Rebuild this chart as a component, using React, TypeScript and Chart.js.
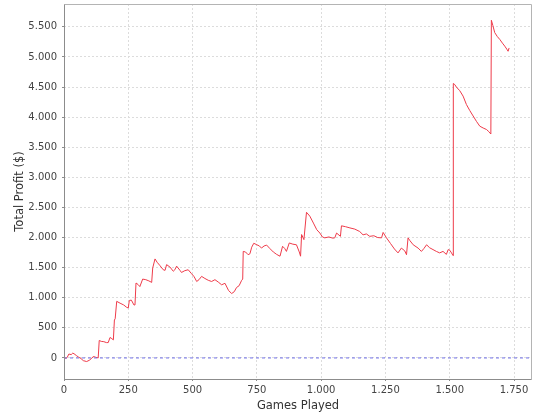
import React, { useEffect, useRef } from "react";
import { Chart, registerables } from "chart.js";

Chart.register(...registerables);

const games = [
  0, 8, 12, 19, 28, 34, 39, 48, 56, 66,
  75, 88, 98, 108, 114, 124, 133, 137, 145, 155,
  165, 172, 179, 186, 192, 196, 199, 205, 218, 232,
  244, 250, 254, 262, 272, 276, 280, 288, 295, 306,
  318, 330, 341, 345, 354, 362, 372, 386, 393, 399,
  412, 425, 431, 438, 451, 457, 470, 483, 496, 506,
  516, 525, 535, 548, 561, 574, 587, 600, 613, 626,
  640, 652, 662, 671, 681, 691, 695, 697, 706, 716,
  723, 730, 738, 750, 760, 768, 778, 788, 800, 814,
  827, 840, 850, 858, 865, 876, 890, 904, 915, 920,
  924, 933, 943, 956, 970, 983, 995, 1005, 1014, 1030,
  1045, 1053, 1060, 1075, 1079, 1095, 1112, 1131, 1150, 1163,
  1176, 1189, 1205, 1220, 1235, 1241, 1254, 1270, 1285, 1299,
  1312, 1325, 1332, 1338, 1345, 1358, 1377, 1390, 1400, 1410,
  1422, 1435, 1448, 1461, 1474, 1487, 1494, 1500, 1507, 1513,
  1514, 1520, 1526, 1539, 1552, 1565, 1578, 1591, 1604, 1617,
  1630, 1643, 1652, 1660, 1662, 1668, 1675, 1685, 1695, 1705,
  1714, 1722, 1727, 1731,
];

const profit = [
  0, -5, 5, 65, 55, 80, 70, 40, 15, -10,
  -45, -60, -40, -5, 25, 10, 0, 290, 275, 270,
  255, 255, 340, 320, 300, 630, 650, 940, 910, 880,
  840, 830, 955, 960, 880, 880, 1245, 1220, 1185, 1310,
  1300, 1280, 1255, 1495, 1645, 1590, 1540, 1465, 1455, 1550,
  1510, 1440, 1465, 1525, 1455, 1420, 1450, 1465, 1400, 1350,
  1270, 1300, 1355, 1320, 1290, 1270, 1300, 1260, 1215, 1240,
  1120, 1070, 1100, 1170, 1200, 1290, 1310, 1770, 1760, 1715,
  1730, 1840, 1905, 1880, 1860, 1825, 1860, 1875, 1820, 1760,
  1720, 1690, 1855, 1820, 1770, 1910, 1890, 1880, 1760, 1690,
  2050, 1965, 2420, 2355, 2240, 2130, 2075, 2010, 1995, 2010,
  1990, 1995, 2075, 2020, 2195, 2180, 2160, 2140, 2100, 2045,
  2060, 2020, 2030, 2000, 1995, 2085, 1995, 1900, 1810, 1745,
  1825, 1780, 1715, 1995, 1950, 1880, 1825, 1770, 1820, 1880,
  1830, 1800, 1770, 1745, 1770, 1720, 1800, 1790, 1745, 1700,
  4560, 4540, 4500, 4440, 4350, 4210, 4110, 4020, 3930, 3850,
  3820, 3795, 3760, 3720, 5610, 5520, 5405, 5340, 5290, 5230,
  5180, 5130, 5095, 5150,
];

const xTicks = [0, 250, 500, 750, 1000, 1250, 1500, 1750];
const yTicks = [0, 500, 1000, 1500, 2000, 2500, 3000, 3500, 4000, 4500, 5000, 5500];

const xMin = 0;
const xMax = 1820;
const yMin = -350;
const yMax = 5880;

const xTitle = "Games Played";
const yTitle = "Total Profit ($)";

function fmt(v: number): string {
  const neg = v < 0;
  const s = Math.round(Math.abs(v)).toString();
  const out = s.replace(/\B(?=(\d{3})+(?!\d))/g, ".");
  return (neg ? "-" : "") + out;
}

const frame = {
  id: "frame",
  afterDraw(chart: any) {
    const { ctx, chartArea } = chart;
    const l = Math.round(chartArea.left) + 0.5;
    const r = Math.round(chartArea.right) - 0.5;
    const t = Math.round(chartArea.top) + 0.5;
    const b = Math.round(chartArea.bottom) + 0.5;
    ctx.save();
    ctx.setLineDash([]);
    ctx.lineWidth = 1;
    ctx.strokeStyle = "#b4b4b4";
    ctx.beginPath();
    ctx.moveTo(l, t);
    ctx.lineTo(r, t);
    ctx.lineTo(r, b);
    ctx.stroke();
    ctx.strokeStyle = "#8c8c8c";
    ctx.beginPath();
    ctx.moveTo(l, t);
    ctx.lineTo(l, b);
    ctx.lineTo(r, b);
    ctx.stroke();
    ctx.restore();
  },
};

export default function App() {
  const ref = useRef<HTMLCanvasElement | null>(null);

  useEffect(() => {
    if (!ref.current) return;
    const pts = games.map((g, i) => ({ x: g, y: profit[i] }));
    const chart = new Chart(ref.current, {
      type: "line",
      data: {
        datasets: [
          {
            data: [
              { x: xMin, y: 0 },
              { x: xMax, y: 0 },
            ],
            borderColor: "#6f6fe6",
            borderWidth: 1,
            borderDash: [3, 3],
            pointRadius: 0,
            tension: 0,
          },
          {
            data: pts,
            borderColor: "#ee3b4a",
            borderWidth: 1,
            pointRadius: 0,
            tension: 0,
          },
        ],
      },
      options: {
        animation: false,
        responsive: false,
        maintainAspectRatio: false,
        layout: { padding: { left: 0, top: 4, right: 8, bottom: 0 } },
        plugins: {
          legend: { display: false },
          tooltip: { enabled: false },
        },
        scales: {
          x: {
            type: "linear",
            min: xMin,
            max: xMax,
            afterFit: (s: any) => {
              s.height = 41;
              s.paddingLeft = 0;
              s.paddingRight = 0;
            },
            afterBuildTicks: (s: any) => {
              s.ticks = xTicks.map((v) => ({ value: v }));
            },
            ticks: {
              color: "#444",
              padding: 3,
              maxRotation: 0,
              autoSkip: false,
              font: { family: "DejaVu Sans", size: 10 },
              callback: (v: any) => fmt(Number(v)),
            },
            grid: {
              color: "#dcdcdc",
              tickLength: 2,
              tickColor: "#8c8c8c",
              tickBorderDash: [],
            } as any,
            border: { display: false, dash: [2, 2] },
            title: {
              display: true,
              text: xTitle,
              color: "#333",
              font: { family: "DejaVu Sans", size: 11.5 },
              padding: { top: 0, bottom: 7 },
            },
          },
          y: {
            type: "linear",
            min: yMin,
            max: yMax,
            afterFit: (s: any) => {
              s.width = 64;
              s.paddingTop = 0;
              s.paddingBottom = 0;
            },
            afterBuildTicks: (s: any) => {
              s.ticks = yTicks.map((v) => ({ value: v }));
            },
            ticks: {
              color: "#444",
              padding: 5,
              autoSkip: false,
              font: { family: "DejaVu Sans", size: 10 },
              callback: (v: any) => fmt(Number(v)),
            },
            grid: {
              color: "#dcdcdc",
              tickLength: 2,
              tickColor: "#8c8c8c",
              tickBorderDash: [],
            } as any,
            border: { display: false, dash: [2, 2] },
            title: {
              display: true,
              text: yTitle,
              color: "#333",
              font: { family: "DejaVu Sans", size: 11.5 },
              padding: { top: 13, bottom: 0 },
            },
          },
        },
      },
      plugins: [frame],
    });
    return () => chart.destroy();
  }, []);

  return (
    <div style={{ position: "fixed", left: 0, top: 0, width: 540, height: 420, background: "#fff" }}>
      <canvas ref={ref} width={540} height={420} style={{ display: "block", width: 540, height: 420 }} />
    </div>
  );
}
